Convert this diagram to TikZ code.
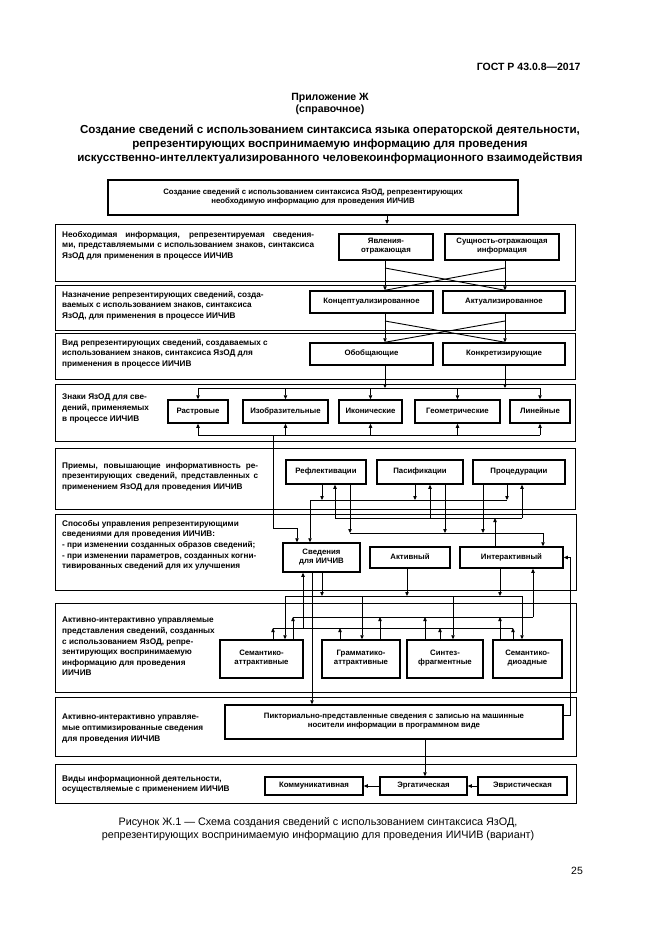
\documentclass[tikz,border=0pt]{standalone}
\usepackage{fontspec}
\setmainfont{Liberation Sans}
\usetikzlibrary{arrows.meta}
\begin{document}
\begin{tikzpicture}[x=1pt,y=-1pt,
  frame/.style={draw,line width=1.2pt,inner sep=0pt,anchor=north west},
  bx/.style={draw,line width=1.5pt,fill=white,inner sep=1pt,align=center,font=\bfseries\fontsize{7.8}{9.2}\selectfont,execute at begin node=\strut},
  lbl/.style={anchor=north west,inner sep=0pt,align=left,font=\bfseries\fontsize{8.2}{10.6}\selectfont},
  jlbl/.style={lbl,align=justify,text width=#1},
  ln/.style={line width=0.9pt},
  ar/.style={line width=0.9pt,-{Triangle[length=4pt,width=3.4pt]}},
]
\useasboundingbox[fill=white] (0,0) rectangle (661,935);

% header
\node[anchor=east,font=\bfseries\fontsize{10.5}{12}\selectfont] (gost) at (584,67) {ГОСТ Р 43.0.8—2017};
\node[font=\bfseries\fontsize{10.5}{12.5}\selectfont,align=center] (app) at (330,104) {Приложение Ж\\(справочное)};
\node[font=\bfseries\fontsize{11.6}{14}\selectfont,align=center] (title) at (330,144) {Создание сведений с использованием синтаксиса языка операторской деятельности,\\репрезентирующих воспринимаемую информацию для проведения\\искусственно-интеллектуализированного человекоинформационного взаимодействия};

% frames
\node[frame,minimum width=520pt,minimum height=57pt] (f2) at (55,224) {};
\node[frame,minimum width=520pt,minimum height=45pt] (f3) at (55,285) {};
\node[frame,minimum width=520pt,minimum height=46pt] (f4) at (55,333) {};
\node[frame,minimum width=520pt,minimum height=57pt] (f5) at (55,384) {};
\node[frame,minimum width=520pt,minimum height=61pt] (f6) at (55,448) {};
\node[frame,minimum width=521pt,minimum height=76pt] (f7) at (55,514) {};
\node[frame,minimum width=521pt,minimum height=89pt] (f8) at (55,603) {};
\node[frame,minimum width=521pt,minimum height=59pt] (f9) at (55,697) {};
\node[frame,minimum width=521pt,minimum height=39pt] (f10) at (55,764) {};

% labels
\node[jlbl=252pt] (l2) at (62,231) {Необходимая информация, репрезентируемая сведения-\linebreak ми, представляемыми с использованием знаков, синтаксиса\linebreak ЯзОД для применения в процессе ИИЧИВ};
\node[lbl] (l3) at (62,291) {Назначение репрезентирующих сведений, созда-\\ваемых с использованием знаков, синтаксиса\\ЯзОД, для применения в процессе ИИЧИВ};
\node[lbl] (l4) at (62,339) {Вид репрезентирующих сведений, создаваемых с\\использованием знаков, синтаксиса ЯзОД для\\применения в процессе ИИЧИВ};
\node[lbl] (l5) at (62,394) {Знаки ЯзОД для све-\\дений, применяемых\\в процессе ИИЧИВ};
\node[jlbl=196pt] (l6) at (62,462) {Приемы, повышающие информативность ре-\linebreak презентирующих сведений, представленных с\linebreak применением ЯзОД для проведения ИИЧИВ};
\node[lbl] (l7) at (62,520) {Способы управления репрезентирующими\\сведениями для проведения ИИЧИВ:\\- при изменении созданных образов сведений;\\- при изменении параметров, созданных когни-\\тивированных сведений для их улучшения};
\node[lbl] (l8) at (62,617) {Активно-интерактивно управляемые\\представления сведений, созданных\\с использованием ЯзОД, репре-\\зентирующих воспринимаемую\\информацию для проведения\\ИИЧИВ};
\node[lbl] (l9) at (62,714) {Активно-интерактивно управляе-\\мые оптимизированные сведения\\для проведения ИИЧИВ};
\node[lbl] (l10) at (62,775) {Виды информационной деятельности,\\осуществляемые с применением ИИЧИВ};

% boxes
\node[bx,minimum width=410pt,minimum height=35pt] (s1) at (313,197.5) {Создание сведений с использованием синтаксиса ЯзОД, репрезентирующих\\необходимую информацию для проведения ИИЧИВ};
\node[bx,minimum width=94pt,minimum height=26pt] (yav) at (386,247) {Явления-\\отражающая};
\node[bx,minimum width=114pt,minimum height=26pt] (sush) at (502,247) {Сущность-отражающая\\информация};
\node[bx,minimum width=123pt,minimum height=22pt] (konc) at (371.5,302) {Концептуализированное};
\node[bx,minimum width=122pt,minimum height=22pt] (akt) at (504,302) {Актуализированное};
\node[bx,minimum width=123pt,minimum height=22pt] (obob) at (371.5,354) {Обобщающие};
\node[bx,minimum width=122pt,minimum height=22pt] (konk) at (504,354) {Конкретизирующие};
\node[bx,minimum width=60pt,minimum height=23pt] (rast) at (198,411.5) {Растровые};
\node[bx,minimum width=85pt,minimum height=23pt] (izob) at (285.5,411.5) {Изобразительные};
\node[bx,minimum width=63pt,minimum height=23pt] (ikon) at (370.5,411.5) {Иконические};
\node[bx,minimum width=85pt,minimum height=23pt] (geom) at (457.5,411.5) {Геометрические};
\node[bx,minimum width=60pt,minimum height=23pt] (lin) at (540,411.5) {Линейные};
\node[bx,minimum width=80pt,minimum height=24pt] (refl) at (326,472) {Рефлективации};
\node[bx,minimum width=86pt,minimum height=24pt] (pas) at (420,472) {Пасификации};
\node[bx,minimum width=92pt,minimum height=24pt] (proc) at (519,472) {Процедурации};
\node[bx,minimum width=77pt,minimum height=29pt] (sved) at (321.5,557.5) {Сведения\\для ИИЧИВ};
\node[bx,minimum width=80pt,minimum height=21pt] (akt2) at (410,557.5) {Активный};
\node[bx,minimum width=103pt,minimum height=21pt] (inter) at (511.5,557.5) {Интерактивный};
\node[bx,minimum width=83pt,minimum height=38pt] (sem) at (261.5,659) {Семантико-\\аттрактивные};
\node[bx,minimum width=78pt,minimum height=38pt] (gram) at (361,659) {Грамматико-\\аттрактивные};
\node[bx,minimum width=76pt,minimum height=38pt] (sint) at (445,659) {Синтез-\\фрагментные};
\node[bx,minimum width=69pt,minimum height=38pt] (semd) at (527.5,659) {Семантико-\\диоадные};
\node[bx,minimum width=338pt,minimum height=34pt] (pikt) at (394,722) {Пикториально-представленные сведения с записью на машинные\\носители информации в программном виде};
\node[bx,minimum width=98pt,minimum height=18pt] (komm) at (314,786) {Коммуникативная};
\node[bx,minimum width=87pt,minimum height=18pt] (erg) at (423.5,786) {Эргатическая};
\node[bx,minimum width=89pt,minimum height=18pt] (evr) at (522.5,786) {Эвристическая};

% S1 -> S2
\draw[ar] (s1.south -| 387,0) -- (f2.north -| 387,0);
% S2 -> S3
\draw[ar] (yav.south -| 385,0) -- (konc.north -| 385,0);
\draw[ar] (sush.south -| 505,0) -- (akt.north -| 505,0);
\coordinate (xa1) at (385,268); \coordinate (xa2) at (505,268);
\draw[ln] (xa1) -- (akt.north -| 505,0);
\draw[ln] (xa2) -- (konc.north -| 385,0);
% S3 -> S4
\draw[ar] (konc.south -| 385,0) -- (obob.north -| 385,0);
\draw[ar] (akt.south -| 505,0) -- (konk.north -| 505,0);
\coordinate (xb1) at (385,321); \coordinate (xb2) at (505,321);
\draw[ln] (xb1) -- (konk.north -| 505,0);
\draw[ln] (xb2) -- (obob.north -| 385,0);
% S4 -> S5
\coordinate (bt) at (0,388);
\draw[ar] (obob.south -| 385,0) -- (bt -| 385,0);
\draw[ar] (konk.south -| 505,0) -- (bt -| 505,0);
\draw[ln] (bt -| rast.north) -- (bt -| lin.north);
\foreach \n in {rast,izob,ikon,geom,lin} \draw[ar] (bt -| \n.north) -- (\n.north);
\coordinate (bb) at (0,435);
\draw[ln] (bb -| rast.south) -- (bb -| lin.south);
\foreach \n in {rast,izob,ikon,geom,lin} \draw[ar] (bb -| \n.south) -- (\n.south);
\draw[ar] (bb -| 273,0) -- (273,528) -- (297,528) -- (sved.north -| 297,0);

% S6 buses
\coordinate (ba) at (0,500);
\draw[ar] (refl.south -| 322,0) -- (ba -| 322,0);
\draw[ar] (pas.south -| 415,0) -- (ba -| 415,0);
\draw[ar] (proc.south -| 507,0) -- (ba -| 507,0);
\draw[ln] (ba -| 310,0) -- (ba -| 507,0);
\draw[ar] (ba -| 310,0) -- (sved.north -| 310,0);
\coordinate (bbb) at (0,518);
\draw[ar] (inter.north -| 495,0) -- (bbb -| 495,0);
\draw[ln] (bbb -| 335,0) -- (bbb -| 522,0);
\draw[ar] (bbb -| 335,0) -- (refl.south -| 335,0);
\draw[ar] (bbb -| 430,0) -- (pas.south -| 430,0);
\draw[ar] (bbb -| 522,0) -- (proc.south -| 522,0);
\coordinate (bc) at (0,533);
\draw[ar] (refl.south -| 350,0) -- (bc -| 350,0);
\draw[ar] (pas.south -| 445,0) -- (bc -| 445,0);
\draw[ar] (proc.south -| 483,0) -- (bc -| 483,0);
\draw[ln] (bc -| 350,0) -- (bc -| 543,0);
\draw[ar] (bc -| 543,0) -- (inter.north -| 543,0);

% S7 -> S8
\coordinate (bf) at (0,596);
\draw[ar] (sved.south -| 322,0) -- (bf -| 322,0);
\draw[ar] (akt2.south -| 407,0) -- (bf -| 407,0);
\draw[ar] (inter.south -| 500,0) -- (bf -| 500,0);
\draw[ln] (bf -| 285,0) -- (bf -| 522,0);
\draw[ar] (bf -| 285,0) -- (sem.north -| 285,0);
\draw[ar] (bf -| 362,0) -- (gram.north -| 362,0);
\draw[ar] (bf -| 453,0) -- (sint.north -| 453,0);
\draw[ar] (bf -| 522,0) -- (semd.north -| 522,0);
\draw[ar] (sved.south -| 312,0) -- (pikt.north -| 312,0);
\coordinate (bd) at (0,617);
\draw[ar] (sem.north -| 293,0) -- (bd -| 293,0);
\draw[ar] (gram.north -| 380,0) -- (bd -| 380,0);
\draw[ar] (sint.north -| 425,0) -- (bd -| 425,0);
\draw[ar] (semd.north -| 500,0) -- (bd -| 500,0);
\draw[ln] (bd -| 293,0) -- (bd -| 533,0);
\draw[ar] (bd -| 533,0) -- (inter.south -| 533,0);
\coordinate (be) at (0,628);
\draw[ar] (sem.north -| 273,0) -- (be -| 273,0);
\draw[ar] (gram.north -| 340,0) -- (be -| 340,0);
\draw[ar] (sint.north -| 440,0) -- (be -| 440,0);
\draw[ar] (semd.north -| 513,0) -- (be -| 513,0);
\draw[ln] (be -| 273,0) -- (be -| 513,0);
\draw[ar] (be -| 303,0) -- (sved.south -| 303,0);

% return and bottom
\coordinate (rt) at (570,715);
\draw[ar] (pikt.east |- rt) -- (rt) -- (rt |- inter.east) -- (inter.east);
\draw[ar] (pikt.south -| 425,0) -- (erg.north -| 425,0);
\draw[ar] (erg.west) -- (komm.east);
\draw[ar] (evr.west) -- (erg.east);

% caption
\node[font=\fontsize{10.8}{13.5}\selectfont,align=center] (cap) at (318,829) {Рисунок Ж.1 — Схема создания сведений с использованием синтаксиса ЯзОД,\\репрезентирующих воспринимаемую информацию для проведения ИИЧИВ (вариант)};
\node[font=\fontsize{10.5}{12}\selectfont] (pg) at (577,871) {25};
\end{tikzpicture}
\end{document}
